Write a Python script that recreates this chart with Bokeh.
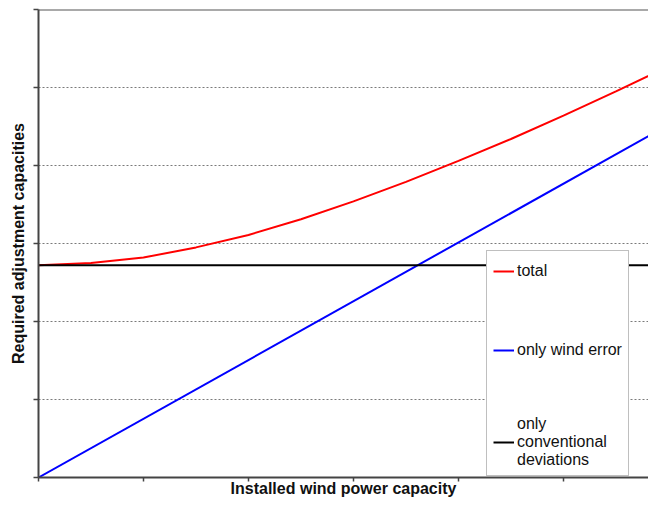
from bokeh.plotting import figure
from bokeh.models import FixedTicker, Span, Legend, LegendItem, CustomJSTickFormatter
from bokeh.embed import file_html
from bokeh.resources import INLINE

# Values (arbitrary units, axis without tick labels)
x_total = [0, 0.5, 1, 1.5, 2, 2.5, 3, 3.5, 4, 4.5, 5, 5.5, 6]
y_total = [2.72, 2.75, 2.82, 2.95, 3.11, 3.31, 3.54, 3.79, 4.06, 4.34, 4.64, 4.95, 5.27]
x_wind = [0, 6]
y_wind = [0, 4.52]
x_conv = [0, 6]
y_conv = [2.72, 2.72]
x_ticks = [0, 1, 2, 3, 4, 5, 6]
y_ticks = [0, 1, 2, 3, 4, 5, 6]

FONT = "Liberation Sans"

p = figure(width=648, height=499, output_backend="svg", toolbar_location=None,
           x_range=(0, 5.81), y_range=(0, 6),
           min_border_left=38, min_border_right=0, min_border_top=9, min_border_bottom=18)
p.outline_line_color = None
p.background_fill_color = "white"
p.border_fill_color = "white"

r_total = p.line(x_total, y_total, line_color="#ff0000", line_width=2)
r_wind = p.line(x_wind, y_wind, line_color="#0000ff", line_width=2)
r_conv = p.line(x_conv, y_conv, line_color="#000000", line_width=2)

p.xgrid.visible = False
p.ygrid.ticker = FixedTicker(ticks=y_ticks[1:-1])
p.ygrid.grid_line_color = "#7a7a7a"
p.ygrid.grid_line_dash = "2 2"
p.ygrid.grid_line_width = 1

p.add_layout(Span(location=6, dimension="width", line_color="#555555", line_width=2))

blank = CustomJSTickFormatter(code="return ''")
for ax in (p.xaxis[0], p.yaxis[0]):
    ax.axis_line_color = "#444444"
    ax.axis_line_width = 2
    ax.major_tick_line_color = "#444444"
    ax.major_tick_line_width = 1.5
    ax.major_tick_in = 0
    ax.major_tick_out = 5
    ax.minor_tick_line_color = None
    ax.formatter = blank
    ax.major_label_standoff = 0
    ax.axis_label_text_font = FONT
    ax.axis_label_text_font_style = "bold"
    ax.axis_label_text_font_size = "16px"
    ax.axis_label_text_color = "#111111"

p.xaxis[0].ticker = FixedTicker(ticks=x_ticks)
p.xaxis[0].major_tick_out = 4
p.yaxis[0].ticker = FixedTicker(ticks=y_ticks)
p.xaxis[0].axis_label = "Installed wind power capacity"
p.xaxis[0].axis_label_standoff = -2
p.yaxis[0].axis_label = "Required adjustment capacities"
p.yaxis[0].axis_label_standoff = 7

legend = Legend(items=[
    LegendItem(label="total", renderers=[r_total]),
    LegendItem(label="only wind error", renderers=[r_wind]),
    LegendItem(label="only\nconventional\ndeviations", renderers=[r_conv]),
], location=(448, 1), margin=0)
legend.padding = 6
legend.spacing = 51
legend.glyph_width = 21
legend.glyph_height = 28
legend.label_height = 28
legend.label_standoff = 3
legend.label_text_font = FONT
legend.label_text_font_size = "16px"
legend.label_text_line_height = 1.0
legend.label_text_color = "#111111"
legend.border_line_color = "#808080"
legend.border_line_width = 1.5
legend.background_fill_color = "white"
legend.background_fill_alpha = 1
p.add_layout(legend, "center")

open("out.html", "w").write(file_html(p, INLINE))
